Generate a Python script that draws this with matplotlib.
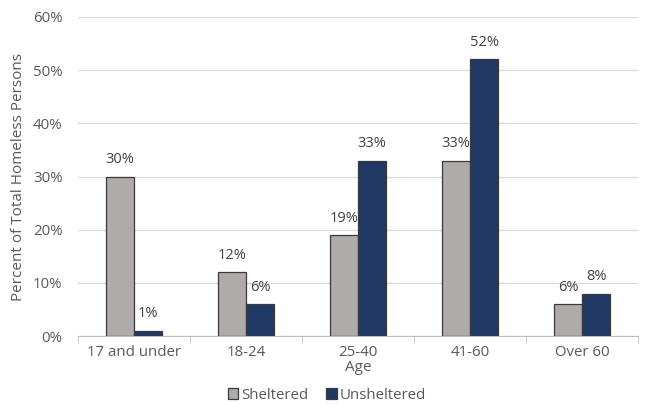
import matplotlib
matplotlib.use("Agg")
import matplotlib.pyplot as plt
import numpy as np
from matplotlib.ticker import FuncFormatter, FixedLocator

categories = ["17 and under", "18-24", "25-40", "41-60", "Over 60"]
sheltered = [30, 12, 19, 33, 6]
unsheltered = [1, 6, 33, 52, 8]

plt.rcParams['font.family'] = ['Open Sans', 'DejaVu Sans']
txt = '#595959'

fig = plt.figure(figsize=(6.54, 4.12), dpi=100)
ax = fig.add_axes([0.119, 0.184, 0.857, 0.775])

x = np.arange(len(categories))
w = 0.25
b1 = ax.bar(x - w/2, sheltered, w, color='#AFABAB', edgecolor='#3A3A3A', linewidth=0.9, label='Sheltered', zorder=3)
b2 = ax.bar(x + w/2, unsheltered, w, color='#1F3864', edgecolor='#3A3A3A', linewidth=0.9, label='Unsheltered', zorder=3)

for rects, vals in ((b1, sheltered), (b2, unsheltered)):
    for r, v in zip(rects, vals):
        ax.text(r.get_x() + r.get_width()/2, v + 1.8, f"{v}%", ha='center', va='bottom',
                fontsize=10.5, color='#404040')

ax.set_xlim(-0.5, len(categories) - 0.5)
ax.set_ylim(0, 60)
ax.set_yticks(range(0, 61, 10))
ax.yaxis.set_major_formatter(FuncFormatter(lambda v, p: f"{int(v)}%"))
ax.grid(axis='y', color='#D9D9D9', linewidth=0.9, zorder=0)
ax.set_xticks(x)
ax.set_xticklabels(categories)
ax.xaxis.set_minor_locator(FixedLocator(np.arange(-0.5, len(categories), 1.0)))
ax.tick_params(axis='x', which='major', length=0, pad=6, labelsize=10.8, labelcolor=txt)
ax.tick_params(axis='x', which='minor', length=5, color='#BFBFBF', direction='out')
ax.tick_params(axis='y', length=0, labelsize=10.8, labelcolor=txt, pad=11)
for s in ('top', 'right', 'left'):
    ax.spines[s].set_visible(False)
ax.spines['bottom'].set_color('#BFBFBF')
ax.set_ylabel('Percent of Total Homeless Persons', fontsize=11, color=txt, labelpad=5)
ax.set_xlabel('Age', fontsize=11, color=txt, labelpad=0)

fig.legend(handles=[b1, b2], loc='lower center', bbox_to_anchor=(0.5, -0.01), ncol=2, frameon=False,
           fontsize=10.8, labelcolor=txt, handlelength=0.7, handleheight=0.7, handletextpad=0.2, columnspacing=1.2)

fig.savefig('out.png', dpi=100)
